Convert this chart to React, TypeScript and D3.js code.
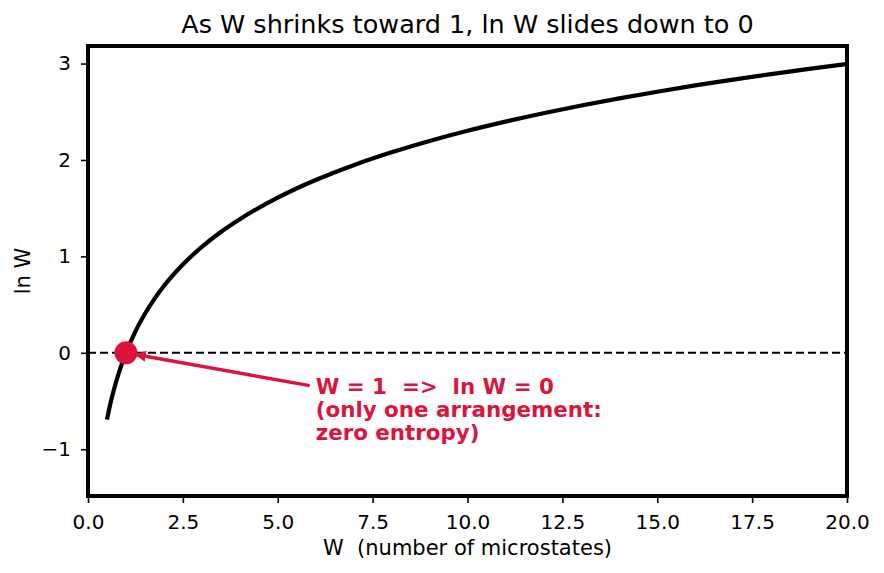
import React, { useRef, useEffect } from 'react';
import * as d3 from 'd3';

// sampled points of the ln W curve
const wValues = [0.5, 0.6, 0.7, 0.8, 0.9, 1, 1.25, 1.5, 1.75, 2, 2.5, 3, 3.5, 4, 5, 6, 7, 8, 9, 10, 11, 12, 13, 14, 15, 16, 17, 18, 19, 20];
const lnWValues = [-0.693, -0.511, -0.357, -0.223, -0.105, 0, 0.223, 0.405, 0.560, 0.693, 0.916, 1.099, 1.253, 1.386, 1.609, 1.792, 1.946, 2.079, 2.197, 2.303, 2.398, 2.485, 2.565, 2.639, 2.708, 2.773, 2.833, 2.890, 2.944, 2.996];

const xTicks = [0, 2.5, 5, 7.5, 10, 12.5, 15, 17.5, 20];
const yTicks = [-1, 0, 1, 2, 3];

const marker = { w: 1, lnW: 0 };
const noteAt = { w: 6, lnW: -0.33 };
const noteLines = ['W = 1  =>  ln W = 0', '(only one arrangement:', 'zero entropy)'];

const RED = '#dc143c';
const FONT = 'DejaVu Sans, sans-serif';

function App() {
  const canvas = useRef<HTMLDivElement>(null);

  useEffect(() => {
    const W = 884, H = 573;
    const margin = { top: 46, right: 37, bottom: 77, left: 88 };
    const width = W - margin.left - margin.right;
    const height = H - margin.top - margin.bottom;

    d3.select(canvas.current).select('svg').remove();
    const root = d3.select(canvas.current)
      .append('svg')
      .attr('width', W)
      .attr('height', H)
      .style('display', 'block')
      .style('background', '#fff');

    root.append('text')
      .attr('x', margin.left + width / 2)
      .attr('y', 33)
      .attr('text-anchor', 'middle')
      .style('font-family', FONT)
      .style('font-size', '25.5px')
      .text('As W shrinks toward 1, ln W slides down to 0');

    const svg = root.append('g').attr('transform', `translate(${margin.left},${margin.top})`);

    const x = d3.scaleLinear().domain([0, 20]).range([0, width]);
    const y = d3.scaleLinear().domain([-1.485, 3.182]).range([height, 0]);

    // axes
    const xAxis = svg.append('g')
      .attr('transform', `translate(0,${height})`)
      .call(d3.axisBottom(x).tickValues(xTicks).tickFormat(d3.format('.1f')).tickSize(7).tickPadding(12));
    const yAxis = svg.append('g')
      .call(d3.axisLeft(y).tickValues(yTicks).tickFormat((d) => d3.format('d')(d as number).replace('-', '\u2212')).tickSize(7).tickPadding(10));
    [xAxis, yAxis].forEach((a) => {
      a.select('.domain').remove();
      a.selectAll('line').attr('stroke', '#000').attr('stroke-width', 1.6);
      a.selectAll('text').style('font-family', FONT).style('font-size', '20px').attr('fill', '#000');
    });

    svg.append('text')
      .attr('x', width / 2)
      .attr('y', height + 59)
      .attr('text-anchor', 'middle')
      .style('font-family', FONT)
      .style('font-size', '21px')
      .style('white-space', 'pre')
      .text('W  (number of microstates)');
    svg.append('text')
      .attr('transform', `translate(${-58},${height / 2}) rotate(-90)`)
      .attr('text-anchor', 'middle')
      .style('font-family', FONT)
      .style('font-size', '21px')
      .text('ln W');

    svg.append('clipPath').attr('id', 'plot-clip')
      .append('rect').attr('width', width).attr('height', height);

    // dashed zero line
    svg.append('line')
      .attr('x1', 0).attr('x2', width)
      .attr('y1', y(0)).attr('y2', y(0))
      .attr('stroke', '#000')
      .attr('stroke-width', 2)
      .attr('stroke-dasharray', '8,4');

    const pts = wValues.map((w, i) => [w, lnWValues[i]] as [number, number]);
    svg.append('path')
      .datum(pts)
      .attr('clip-path', 'url(#plot-clip)')
      .attr('fill', 'none')
      .attr('stroke', '#000')
      .attr('stroke-width', 4.2)
      .attr('d', d3.line<[number, number]>().x((d) => x(d[0])).y((d) => y(d[1])).curve(d3.curveMonotoneX));

    // arrow from the note to the marker
    const defs = root.append('defs');
    defs.append('marker')
      .attr('id', 'head')
      .attr('viewBox', '0 0 10 10')
      .attr('refX', 9).attr('refY', 5)
      .attr('markerWidth', 3.2).attr('markerHeight', 3.2)
      .attr('orient', 'auto')
      .append('path').attr('d', 'M0,0 L10,5 L0,10 z').attr('fill', RED);

    const x0 = x(noteAt.w) - 6, y0 = y(noteAt.lnW) + 1;
    const x1 = x(marker.w), y1 = y(marker.lnW);
    const ang = Math.atan2(y1 - y0, x1 - x0);
    const gap = 10;
    svg.append('line')
      .attr('x1', x0).attr('y1', y0)
      .attr('x2', x1 - Math.cos(ang) * gap).attr('y2', y1 - Math.sin(ang) * gap)
      .attr('stroke', RED)
      .attr('stroke-width', 3.5)
      .attr('marker-end', 'url(#head)');

    svg.append('circle')
      .attr('cx', x(marker.w)).attr('cy', y(marker.lnW))
      .attr('r', 11.5)
      .attr('fill', RED);

    const note = svg.append('text')
      .attr('x', x(noteAt.w))
      .attr('y', y(noteAt.lnW) + 9)
      .style('font-family', FONT)
      .style('font-size', '21.4px')
      .style('font-weight', 'bold')
      .style('white-space', 'pre')
      .attr('fill', RED);
    noteLines.forEach((t, i) => {
      note.append('tspan').attr('x', x(noteAt.w)).attr('dy', i === 0 ? 0 : 23).text(t);
    });

    // frame
    svg.append('rect')
      .attr('width', width).attr('height', height)
      .attr('fill', 'none')
      .attr('stroke', '#000')
      .attr('stroke-width', 4);
  }, []);

  return <div ref={canvas} style={{ position: 'absolute', left: 0, top: 0 }}></div>;
}

export default App;
